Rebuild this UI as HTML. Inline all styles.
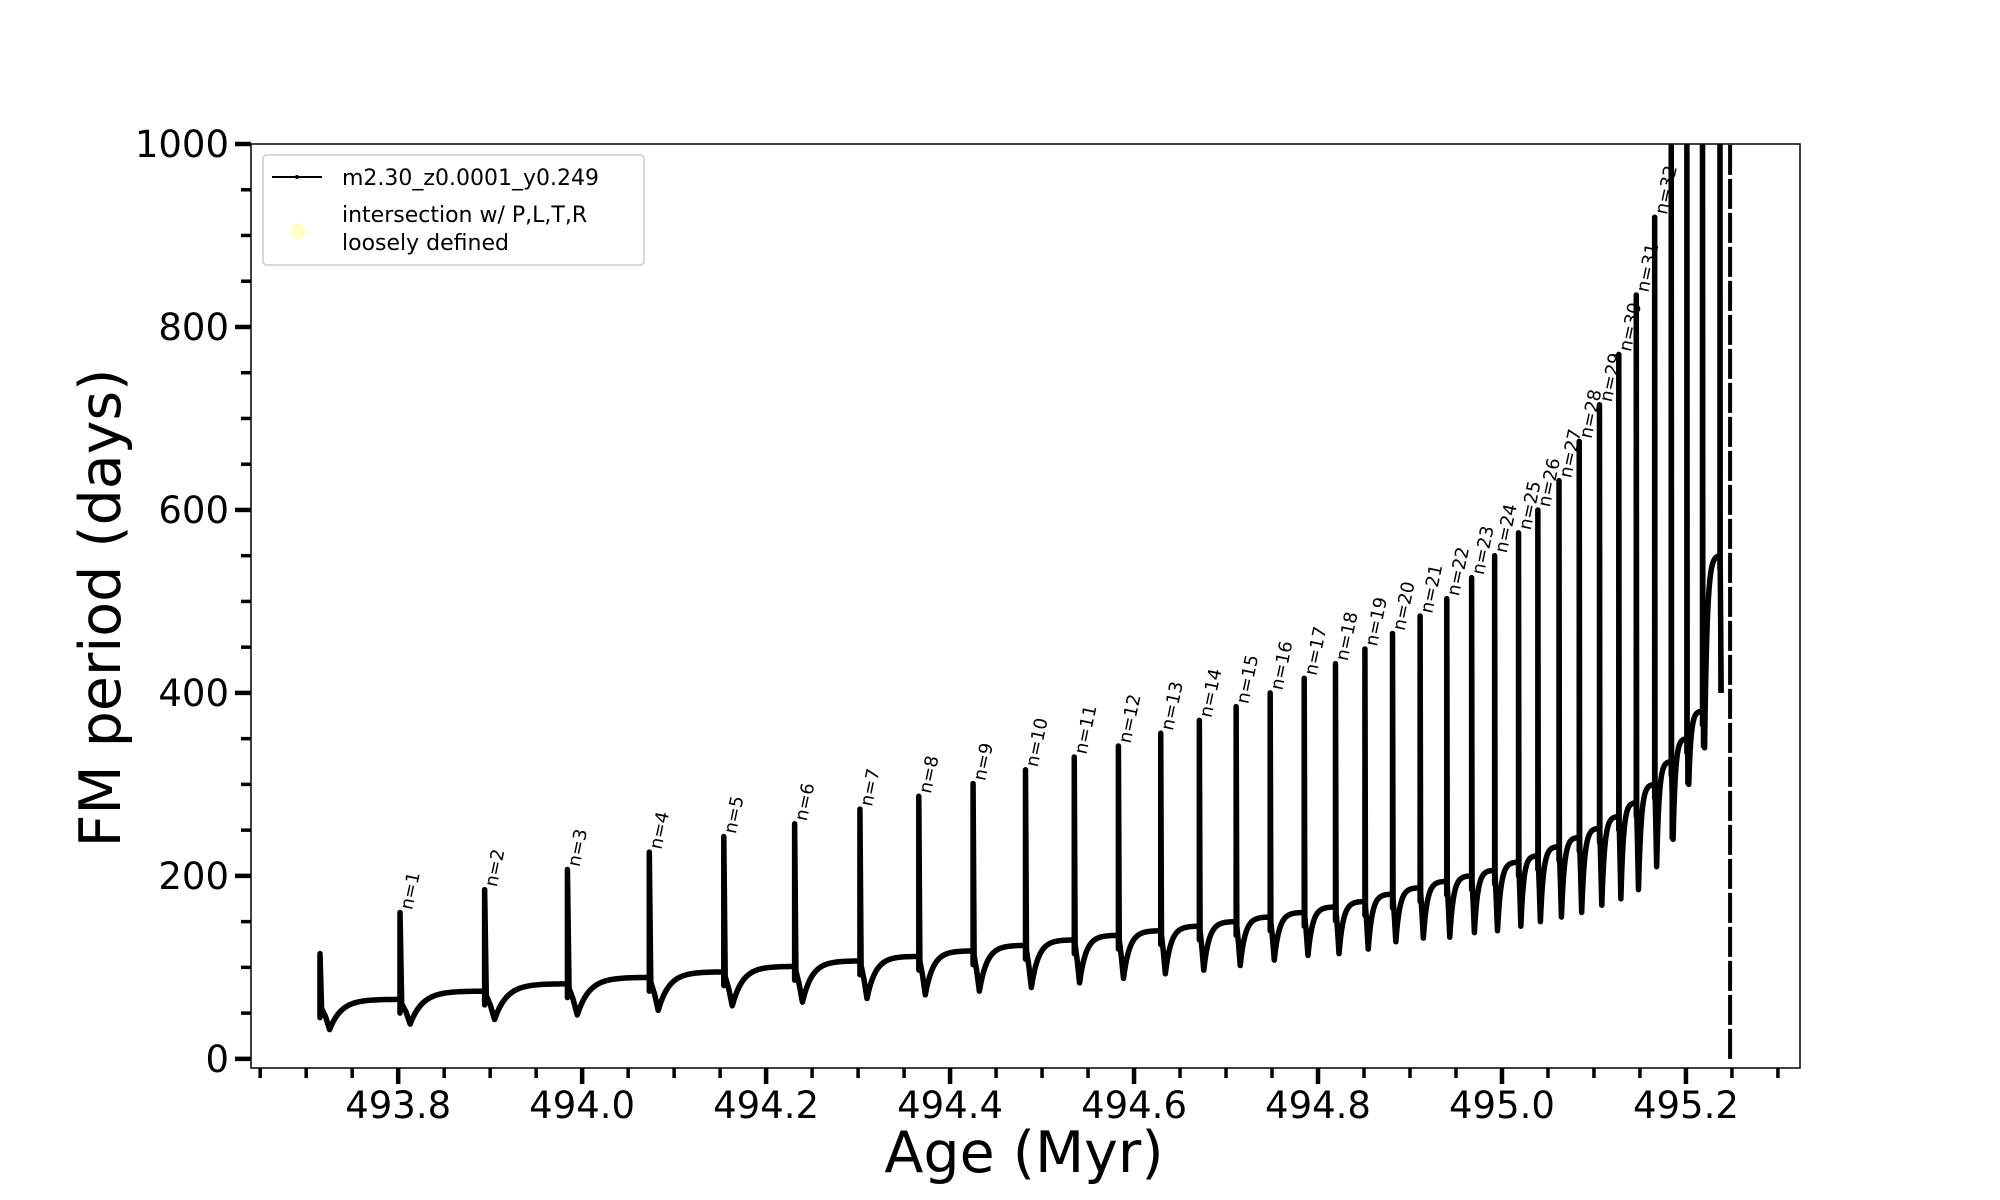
<!DOCTYPE html>
<html><head><meta charset="utf-8">
<style>
html,body{margin:0;padding:0;background:#fff;}
svg{display:block;font-family:"DejaVu Sans","Liberation Sans",sans-serif;}
</style></head>
<body>
<svg id="chart" width="2000" height="1200" viewBox="0 0 2000 1200" xmlns="http://www.w3.org/2000/svg">
<defs><clipPath id="plotclip"><rect x="251" y="144" width="1549" height="924"/></clipPath></defs>
<rect x="0" y="0" width="2000" height="1200" fill="#fff"/>
<g id="series" clip-path="url(#plotclip)"></g>
<g id="labels"></g>
<rect x="251" y="144" width="1549" height="924" fill="none" stroke="#000" stroke-width="1.5"/>
<g id="axes"></g>
<text x="1024" y="1172" font-size="57" text-anchor="middle">Age (Myr)</text>
<text transform="translate(120,608) rotate(-90)" font-size="57" text-anchor="middle">FM period (days)</text>
<g>
<rect x="263" y="155" width="381" height="110" rx="4" fill="#fff" stroke="#ccc" stroke-width="1.5"/>
<line x1="272" y1="177" x2="322" y2="177" stroke="#000" stroke-width="2"/>
<circle cx="297" cy="177" r="2" fill="#000"/>
<text x="342" y="185" font-size="22">m2.30_z0.0001_y0.249</text>
<ellipse cx="298" cy="231" rx="7" ry="8" fill="#ffffc0"/>
<text x="342" y="222" font-size="22">intersection w/ P,L,T,R</text>
<text x="342" y="250" font-size="22">loosely defined</text>
</g>
</svg>
<script>
// pulse times (Myr), first index is the initial pulse (unlabelled)
const pulseAges = [493.715,493.802,493.894,493.984,494.073,494.154,494.231,494.302,494.366,494.425,494.482,494.535,494.583,494.629,494.671,494.711,494.748,494.785,494.819,494.851,494.881,494.911,494.940,494.967,494.992,495.018,495.039,495.062,495.084,495.106,495.127,495.146,495.166,495.184,495.201,495.218,495.237];
const pulsePeaks = [115,160,185,207,226,243,257,273,287,301,316,330,342,356,370,385,400,416,432,448,465,484,503,526,550,575,600,632,675,715,770,835,920,1100,1100,1100,1100];
const preBaselines = [60,65,74,82,89,95,101,107,112,118,124,130,135,140,145,150,155,160,166,172,180,187,194,200,206,215,222,232,242,252,265,280,300,325,350,380,550];
const postDips = [32,38,43,48,53,58,62,66,70,74,78,83,88,93,97,102,108,113,115,120,128,132,133,138,140,145,150,155,160,168,175,185,210,240,300,340,400];
const finalAge = 495.248;
const xTicks = [493.8,494.0,494.2,494.4,494.6,494.8,495.0,495.2];
const xTickLabels = ["493.8","494.0","494.2","494.4","494.6","494.8","495.0","495.2"];
const yTicks = [0,200,400,600,800,1000];
const yTickLabels = ["0","200","400","600","800","1000"];

const X0=493.640, X1=495.324, Y0=-10, Y1=1000;
const PL=251, PR=1800, PT=144, PB=1068;
function xs(a){return PL+(a-X0)/(X1-X0)*(PR-PL);}
function ys(v){return PB-(v-Y0)/(Y1-Y0)*(PB-PT);}
const NS="http://www.w3.org/2000/svg";
function mk(tag,attrs,parent){const e=document.createElementNS(NS,tag);for(const k in attrs)e.setAttribute(k,attrs[k]);parent.appendChild(e);return e;}

const series=document.getElementById('series');
const labels=document.getElementById('labels');
const axes=document.getElementById('axes');

let pts=[];
for(let i=0;i<pulseAges.length;i++){
  const t=pulseAges[i], b=preBaselines[i], p=pulsePeaks[i], d=postDips[i];
  const next = i+1<pulseAges.length ? pulseAges[i+1] : finalAge;
  const bNext = i+1<preBaselines.length ? preBaselines[i+1] : 550;
  const interval=next-t;
  pts.push([t,b]); pts.push([t,b-15]); pts.push([t,p]);
  pts.push([t+interval*0.02,b-5]);
  const td=t+interval*0.12;
  pts.push([t+interval*0.07,(b+d)/2]);
  pts.push([td,d]);
  if(i+1<pulseAges.length){
    const N=30;
    for(let k=1;k<=N;k++){
      const s=k/N;
      const f=(1-Math.exp(-6*s))/(1-Math.exp(-6));
      pts.push([td+(next-td)*s, d+(bNext-d)*f]);
    }
  }
}
let dstr=pts.map((q,j)=>(j?'L':'M')+xs(q[0]).toFixed(2)+' '+ys(q[1]).toFixed(2)).join(' ');
const path=mk('path',{d:dstr,fill:'none',stroke:'#000','stroke-width':5.5,'stroke-linejoin':'round'},series);


const fin=mk('line',{x1:xs(finalAge),y1:ys(0),x2:xs(finalAge),y2:ys(1000),stroke:'#000','stroke-width':4,'stroke-dasharray':'30 4'},series);


for(let i=33;i<pulseAges.length;i++){
  const l=mk('line',{x1:xs(pulseAges[i]),y1:ys(postDips[i]),x2:xs(pulseAges[i]),y2:ys(1000),stroke:'#000','stroke-width':3.5},series);
  
  
}

for(let i=1;i<=32;i++){
  const x=xs(pulseAges[i])+12, y=ys(pulsePeaks[i])-2;
  const t=mk('text',{transform:`translate(${x.toFixed(1)},${y.toFixed(1)}) rotate(-78)`,'font-size':18},labels);
  t.textContent='n='+i;
  
  
}

for(let a=493.65;a<495.33;a+=0.05){
  const major=xTicks.some(v=>Math.abs(v-a)<1e-6);
  const l=mk('line',{x1:xs(a),y1:PB,x2:xs(a),y2:PB+(major?16:10),stroke:'#000','stroke-width':major?4.5:3.5},axes);
  
  
}
xTicks.forEach((v,i)=>{
  const t=mk('text',{x:xs(v),y:1118,'font-size':37,'text-anchor':'middle'},axes);
  t.textContent=xTickLabels[i];
  
  
});
for(let v=0;v<=1000;v+=50){
  const major=v%200===0;
  const l=mk('line',{x1:PL,y1:ys(v),x2:PL-(major?16:10),y2:ys(v),stroke:'#000','stroke-width':major?4.5:3.5},axes);
  
  
}
yTicks.forEach((v,i)=>{
  const t=mk('text',{x:PL-22,y:ys(v)+13,'font-size':37,'text-anchor':'end'},axes);
  t.textContent=yTickLabels[i];
  
  
});
</script>
</body></html>
